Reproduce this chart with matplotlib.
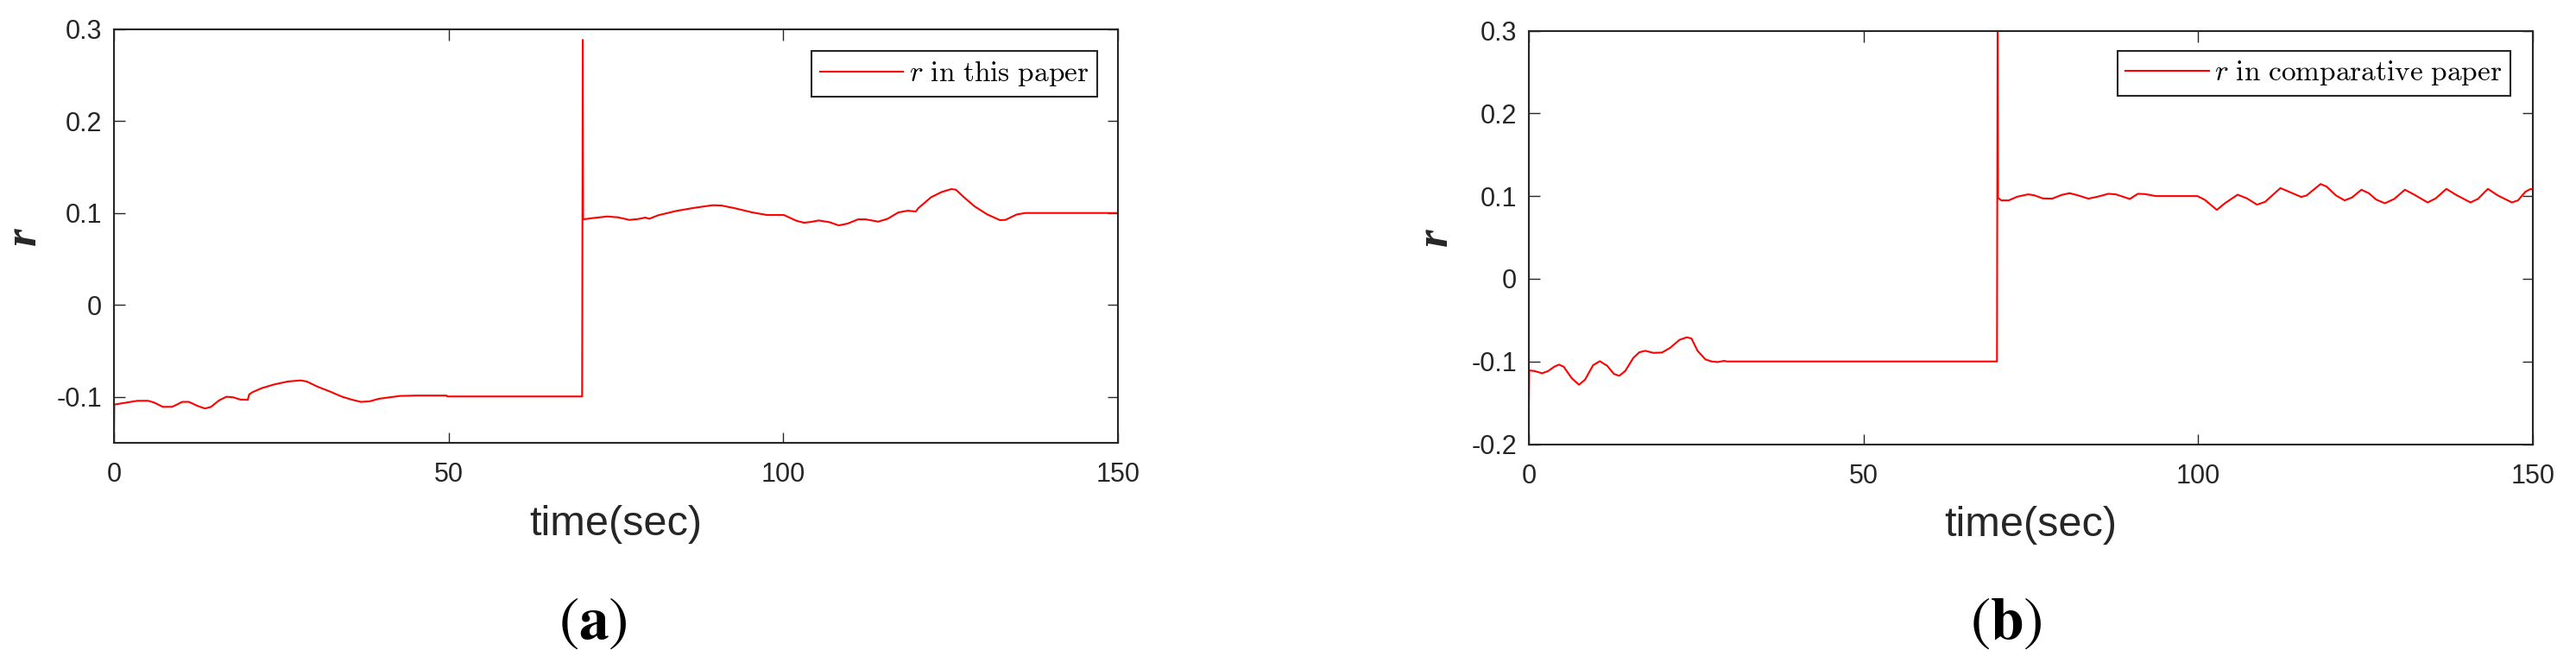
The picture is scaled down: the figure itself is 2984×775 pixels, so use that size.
import matplotlib
matplotlib.use("Agg")
import matplotlib.pyplot as plt

# ---------------- data ----------------
t_a = [0.0, 0.05, 1.4, 3.5, 5.1, 6.0, 7.3, 8.7, 10.2, 11.2, 12.5, 13.6, 14.5, 15.7,
       16.8, 17.8, 18.9, 20.0, 20.2, 20.7, 22.1, 24.0, 26.0, 27.9, 28.8, 30.4, 32.3,
       34.1, 35.5, 36.9, 38.2, 39.6, 41.2, 42.8, 45.2, 49.7, 49.8, 69.95, 69.97,
       70.05, 70.1, 71.5, 73.7, 75.3, 77.0, 78.3, 79.4, 80.0, 81.3, 84.0, 86.7, 89.5,
       90.8, 92.7, 95.4, 97.6, 99.5, 100.1, 102.0, 103.1, 104.2, 105.3, 106.9, 108.3,
       109.6, 111.2, 112.3, 114.2, 115.6, 117.2, 118.6, 119.8, 120.2, 122.1, 123.7,
       125.1, 125.8, 127.0, 128.6, 130.5, 132.4, 133.2, 134.9, 136.2, 150.0]
r_a = [-0.15, -0.1085, -0.1069, -0.1044, -0.1044, -0.1063, -0.111, -0.111, -0.1056,
       -0.1056, -0.110, -0.1128, -0.111, -0.104, -0.100, -0.1006, -0.1031, -0.1034,
       -0.0975, -0.095, -0.0906, -0.0865, -0.0834, -0.0822, -0.0834, -0.089, -0.0944,
       -0.100, -0.1031, -0.1056, -0.105, -0.1022, -0.1006, -0.0991, -0.0987, -0.0987,
       -0.0997, -0.0997, -0.035, 0.2885, 0.0931, 0.0944, 0.0962, 0.0953, 0.0925,
       0.0934, 0.095, 0.0937, 0.0975, 0.1022, 0.1056, 0.1085, 0.1081, 0.1053, 0.1006,
       0.0978, 0.0978, 0.0978, 0.0915, 0.0894, 0.0903, 0.0919, 0.090, 0.0865, 0.0884,
       0.0931, 0.0931, 0.0906, 0.0937, 0.1006, 0.1025, 0.1016, 0.1053, 0.1172, 0.1229,
       0.126, 0.1254, 0.1172, 0.1072, 0.0984, 0.0922, 0.0925, 0.0984, 0.100, 0.100]

t_b = [0.0, 0.05, 0.8, 2.0, 2.9, 3.8, 4.5, 5.2, 6.4, 7.5, 8.4, 9.6, 10.6, 11.7, 12.7,
       13.5, 14.4, 15.6, 16.5, 17.4, 18.6, 19.9, 21.1, 22.5, 23.6, 24.3, 25.2, 26.4,
       27.3, 28.2, 29.2, 29.6, 69.95, 69.97, 70.05, 70.1, 70.6, 71.7, 73.0, 74.6, 75.5,
       76.8, 78.2, 79.6, 80.8, 82.0, 83.6, 85.0, 86.6, 87.7, 89.8, 91.0, 92.1, 93.7,
       99.9, 101.0, 102.8, 104.0, 105.9, 107.3, 108.8, 110.0, 112.3, 113.8, 115.4,
       116.2, 118.3, 119.2, 120.6, 121.9, 123.0, 124.4, 125.5, 126.6, 127.9, 129.3,
       130.9, 132.3, 134.3, 135.5, 137.1, 138.5, 140.7, 141.8, 143.3, 144.8, 146.9,
       147.8, 148.9, 149.7, 150.0]
r_b = [-0.15, -0.1108, -0.1115, -0.1143, -0.1115, -0.1063, -0.1038, -0.1063, -0.1202,
       -0.1282, -0.1219, -0.1045, -0.0997, -0.1052, -0.115, -0.1174, -0.1115, -0.0958,
       -0.0889, -0.0871, -0.0896, -0.0892, -0.0836, -0.0739, -0.0708, -0.0722, -0.0871,
       -0.0976, -0.100, -0.1007, -0.0993, -0.100, -0.100, 0.0, 0.35, 0.0979, 0.0948,
       0.0948, 0.0993, 0.1021, 0.101, 0.0972, 0.0969, 0.1014, 0.1035, 0.101, 0.0969,
       0.0993, 0.1028, 0.1021, 0.0965, 0.1028, 0.1024, 0.100, 0.100, 0.0955, 0.0833,
       0.0913, 0.1017, 0.0972, 0.0896, 0.093, 0.1097, 0.1045, 0.099, 0.1007, 0.1146,
       0.1115, 0.1007, 0.0948, 0.0983, 0.1077, 0.1035, 0.0958, 0.0913, 0.0965, 0.1077,
       0.1017, 0.0923, 0.0972, 0.1087, 0.1017, 0.0923, 0.0965, 0.1087, 0.1007, 0.0923,
       0.0948, 0.1052, 0.1087, 0.1077]

x_ticks = [0, 50, 100, 150]
y_ticks_a = [-0.1, 0, 0.1, 0.2, 0.3]
y_ticks_b = [-0.2, -0.1, 0, 0.1, 0.2, 0.3]
y_tick_labels_a = ["-0.1", "0", "0.1", "0.2", "0.3"]
y_tick_labels_b = ["-0.2", "-0.1", "0", "0.1", "0.2", "0.3"]
ylim_a = (-0.15, 0.3)
ylim_b = (-0.2, 0.3)
legend_a = r"$r\ \mathrm{in\ this\ paper}$"
legend_b = r"$r\ \mathrm{in\ comparative\ paper}$"
panel_labels = [r"$(\mathbf{a})$", r"$(\mathbf{b})$"]

# ---------------- style ----------------
plt.rcParams["font.family"] = ["Liberation Sans", "DejaVu Sans"]
plt.rcParams["mathtext.fontset"] = "cm"
AX_COLOR = "#262626"

fig = plt.figure(figsize=(29.84, 7.75), dpi=100)

panels = [
    dict(rect=[0.04424, 0.3383, 0.3897, 0.618], t=t_a, r=r_a, ylim=ylim_a,
         yt=y_ticks_a, ytl=y_tick_labels_a, leg=legend_a, anchor=(0.9794, 0.9474),
         ylab_x=-0.0894, plab_x=0.2302),
    dict(rect=[0.5935, 0.3361, 0.3897, 0.618], t=t_b, r=r_b, ylim=ylim_b,
         yt=y_ticks_b, ytl=y_tick_labels_b, leg=legend_b, anchor=(0.9777, 0.951),
         ylab_x=-0.0929, plab_x=0.7788),
]

for i, p in enumerate(panels):
    ax = fig.add_axes(p["rect"])
    ax.plot(p["t"], p["r"], color="#ff0000", lw=1.5, label=p["leg"])
    ax.set_xlim(0, 150)
    ax.set_ylim(*p["ylim"])
    ax.set_xticks(x_ticks)
    ax.set_xticklabels([str(v) for v in x_ticks])
    ax.set_yticks(p["yt"])
    ax.set_yticklabels(p["ytl"])
    for s in ax.spines.values():
        s.set_linewidth(1.5)
        s.set_color(AX_COLOR)
    ax.tick_params(axis="both", which="major", direction="in", top=True, right=True,
                   length=9, width=1.0, color=AX_COLOR, labelcolor=AX_COLOR,
                   labelsize=22)
    ax.tick_params(axis="x", pad=16)
    ax.tick_params(axis="y", pad=10)
    ax.set_xlabel("time(sec)", fontsize=35, color=AX_COLOR)
    ax.xaxis.set_label_coords(0.5, -0.15)
    ax.set_ylabel("r", fontsize=38, family="Liberation Serif", style="italic",
                  weight="bold", color=AX_COLOR, va="center")
    ax.yaxis.set_label_coords(p["ylab_x"], 0.5)
    leg = ax.legend(loc="upper right", bbox_to_anchor=p["anchor"], borderaxespad=0,
                    fontsize=24, frameon=True, fancybox=False, handlelength=2.9,
                    handletextpad=0.2, borderpad=0.28)
    fr = leg.get_frame()
    fr.set_edgecolor(AX_COLOR)
    fr.set_linewidth(1.5)
    fr.set_alpha(1)
    fig.text(p["plab_x"], 0.0684, panel_labels[i], fontsize=50, ha="center",
             va="center", math_fontfamily="stix", color="black")

fig.savefig("out.png", dpi=100)
